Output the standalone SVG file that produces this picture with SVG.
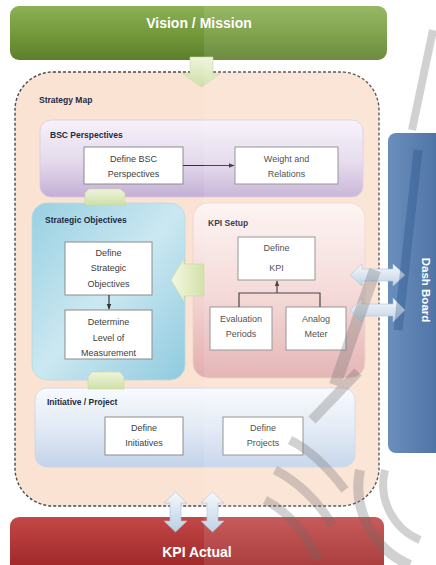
<svg xmlns="http://www.w3.org/2000/svg" width="436" height="565" viewBox="0 0 436 565">
  <defs>
    <linearGradient id="gGreen" x1="0" y1="0" x2="0" y2="1">
      <stop offset="0" stop-color="#8db055"/>
      <stop offset="0.5" stop-color="#739a3b"/>
      <stop offset="1" stop-color="#5c7f2b"/>
    </linearGradient>
    <linearGradient id="gRed" x1="0" y1="0" x2="0" y2="1">
      <stop offset="0" stop-color="#c24848"/>
      <stop offset="1" stop-color="#9a2222"/>
    </linearGradient>
    <linearGradient id="gDash" x1="0" y1="0" x2="1" y2="0">
      <stop offset="0" stop-color="#5a82b6"/>
      <stop offset="1" stop-color="#345e96"/>
    </linearGradient>
    <linearGradient id="gBsc" x1="0" y1="0" x2="0" y2="1">
      <stop offset="0" stop-color="#f6f2f9"/>
      <stop offset="0.55" stop-color="#e4d9ec"/>
      <stop offset="1" stop-color="#c3afd5"/>
    </linearGradient>
    <linearGradient id="gObj" x1="0" y1="0" x2="1" y2="1">
      <stop offset="0" stop-color="#98d0e2"/>
      <stop offset="0.5" stop-color="#cbe8f1"/>
      <stop offset="1" stop-color="#8fcadf"/>
    </linearGradient>
    <linearGradient id="gKpi" x1="0" y1="0" x2="0" y2="1">
      <stop offset="0" stop-color="#fdf4f2"/>
      <stop offset="0.5" stop-color="#f4d8d6"/>
      <stop offset="1" stop-color="#e2aeae"/>
    </linearGradient>
    <linearGradient id="gInit" x1="0" y1="0" x2="0" y2="1">
      <stop offset="0" stop-color="#f8fafd"/>
      <stop offset="0.5" stop-color="#e2eaf5"/>
      <stop offset="1" stop-color="#c3d3ea"/>
    </linearGradient>
    <linearGradient id="gPale" x1="0" y1="0" x2="0" y2="1">
      <stop offset="0" stop-color="#eef4dc"/>
      <stop offset="1" stop-color="#cfe0a8"/>
    </linearGradient>
    <linearGradient id="gPaleH" x1="0" y1="0" x2="1" y2="0">
      <stop offset="0" stop-color="#f4f7e2"/>
      <stop offset="1" stop-color="#d2e2a8"/>
    </linearGradient>
    <linearGradient id="gIce" x1="0" y1="0" x2="0" y2="1">
      <stop offset="0" stop-color="#f6f9fc"/>
      <stop offset="1" stop-color="#b9cee4"/>
    </linearGradient>
    <marker id="ah" viewBox="0 0 10 10" refX="9" refY="5" markerWidth="5" markerHeight="5" orient="auto">
      <path d="M0,1 L10,5 L0,9 z" fill="#333"/>
    </marker>
    <style>
      .title { font-family: "Liberation Sans", Arial, sans-serif; font-weight: bold; fill: #ffffff; text-anchor: middle; }
      .head { font-family: "Liberation Sans", Arial, sans-serif; font-weight: bold; font-size: 8.5px; fill: #1c2b45; }
      .item { fill: #ffffff; stroke: #8c8c8c; stroke-width: 1; }
      .lbl { font-family: "Liberation Sans", Arial, sans-serif; font-size: 9px; fill: #404040; text-anchor: middle; }
      .line { fill: none; stroke: #333; stroke-width: 1.2; }
      .pale { stroke: #c8d8a0; stroke-width: 0.6; }
      .ice { fill: url(#gIce); stroke: #a9bdd4; stroke-width: 0.6; }
    </style>
  </defs>

  <rect width="436" height="565" fill="#ffffff"/>

  <!-- Strategy map frame -->
  <g id="strategy-map">
    <rect x="15" y="72" width="364" height="434" rx="38" fill="#fbe3d3" stroke="#4a4a4a" stroke-width="1.4" stroke-dasharray="3 2"/>
    <text class="head" x="39" y="103">Strategy Map</text>
  </g>

  <!-- Vision / Mission banner -->
  <g id="vision">
    <rect x="10" y="6" width="377" height="54" rx="9" fill="url(#gGreen)"/>
    <text class="title" x="199" y="28" font-size="14">Vision / Mission</text>
  </g>

  <!-- Dash Board panel -->
  <g id="dashboard">
    <rect x="388" y="133" width="60" height="320" rx="8" fill="url(#gDash)"/>
    <text class="title" font-size="11.5" transform="translate(422 290) rotate(90)">Dash Board</text>
  </g>

  <!-- KPI Actual banner -->
  <g id="kpi-actual">
    <rect x="10" y="517" width="374" height="60" rx="9" fill="url(#gRed)"/>
    <text class="title" x="197" y="557" font-size="14">KPI Actual</text>
  </g>

  <!-- BSC Perspectives -->
  <g id="bsc">
    <rect x="40" y="120" width="323" height="77" rx="11" fill="url(#gBsc)" stroke="#d6cbe0" stroke-width="0.8"/>
    <text class="head" x="50" y="138">BSC Perspectives</text>
  </g>
  <g id="define-bsc">
    <rect class="item" x="84" y="147" width="99" height="37"/>
    <text class="lbl" x="133.5" y="162">Define BSC</text>
    <text class="lbl" x="133.5" y="177">Perspectives</text>
  </g>
  <g id="weight">
    <rect class="item" x="235" y="147" width="103" height="37"/>
    <text class="lbl" x="286.5" y="162">Weight and</text>
    <text class="lbl" x="286.5" y="177">Relations</text>
  </g>

  <!-- Strategic Objectives -->
  <g id="objectives">
    <rect x="32" y="203" width="153" height="177" rx="15" fill="url(#gObj)" stroke="#b5dbe7" stroke-width="0.8"/>
    <text class="head" x="45" y="223">Strategic Objectives</text>
  </g>
  <g id="define-objectives">
    <rect class="item" x="65" y="242" width="87" height="53"/>
    <text class="lbl" x="108.5" y="256">Define</text>
    <text class="lbl" x="108.5" y="271">Strategic</text>
    <text class="lbl" x="108.5" y="287">Objectives</text>
  </g>
  <g id="level">
    <rect class="item" x="65" y="310" width="87" height="49"/>
    <text class="lbl" x="108.5" y="325">Determine</text>
    <text class="lbl" x="108.5" y="341">Level of</text>
    <text class="lbl" x="108.5" y="356">Measurement</text>
  </g>

  <!-- KPI Setup -->
  <g id="kpi-setup">
    <rect x="193" y="203" width="172" height="175" rx="15" fill="url(#gKpi)" stroke="#ecd0cc" stroke-width="0.8"/>
    <text class="head" x="208" y="226">KPI Setup</text>
  </g>
  <g id="define-kpi">
    <rect class="item" x="238" y="237" width="77" height="43"/>
    <text class="lbl" x="276.5" y="251">Define</text>
    <text class="lbl" x="276.5" y="271">KPI</text>
  </g>
  <g id="evaluation">
    <rect class="item" x="210" y="307" width="62" height="43"/>
    <text class="lbl" x="241" y="322">Evaluation</text>
    <text class="lbl" x="241" y="337">Periods</text>
  </g>
  <g id="analog">
    <rect class="item" x="286" y="307" width="60" height="43"/>
    <text class="lbl" x="316" y="322">Analog</text>
    <text class="lbl" x="316" y="337">Meter</text>
  </g>

  <!-- Initiative / Project -->
  <g id="initiative">
    <rect x="35" y="388" width="320" height="79" rx="12" fill="url(#gInit)" stroke="#c9d6e8" stroke-width="0.8"/>
    <text class="head" x="47" y="405">Initiative / Project</text>
  </g>
  <g id="define-initiatives">
    <rect class="item" x="105" y="417" width="78" height="38"/>
    <text class="lbl" x="144" y="431">Define</text>
    <text class="lbl" x="144" y="446">Initiatives</text>
  </g>
  <g id="define-projects">
    <rect class="item" x="223" y="417" width="80" height="38"/>
    <text class="lbl" x="263" y="431">Define</text>
    <text class="lbl" x="263" y="446">Projects</text>
  </g>

  <!-- Connectors -->
  <g id="connectors">
    <!-- Vision down into the strategy map -->
    <path class="pale" d="M190,57 H213 V74 H220 L201.5,87 L183,74 H190 Z" fill="url(#gPale)"/>
    <!-- BSC to objectives link -->
    <path class="pale" d="M89,189 H120 L125,193 V205 H85 V193 Z" fill="url(#gPale)"/>
    <!-- objectives to initiatives link -->
    <path class="pale" d="M92,372 H120 L124,377 V389 H88 V377 Z" fill="url(#gPale)"/>
    <!-- KPI setup feeding objectives -->
    <path class="pale" d="M204,264 V296 H184 V302 L171,280 L184,258 V264 Z" fill="url(#gPaleH)"/>

    <!-- Define BSC to Weight -->
    <line class="line" x1="183" y1="165.5" x2="234" y2="165.5" marker-end="url(#ah)"/>
    <!-- Objectives to level -->
    <line class="line" x1="109" y1="295" x2="109" y2="309" marker-end="url(#ah)"/>
    <!-- Evaluation / Analog into Define KPI -->
    <path class="line" d="M239,307 V293 H320 V307"/>
    <line class="line" x1="277" y1="293" x2="277" y2="281" marker-end="url(#ah)"/>

    <!-- Two-way links with the dash board -->
    <path class="ice" d="M350,275 L362,264 V269 H393 V264 L405,275 L393,286 V281 H362 V286 Z"/>
    <path class="ice" d="M350,310 L362,298 V304 H393 V298 L405,310 L393,322 V316 H362 V322 Z"/>

    <!-- Two-way links with KPI Actual -->
    <path class="ice" d="M175.5,492 L187,503 H181 V521 H187 L175.5,532 L164,521 H170 V503 H164 Z"/>
    <path class="ice" d="M212.5,492 L224,503 H218 V521 H224 L212.5,532 L201,521 H207 V503 H201 Z"/>
  </g>

  <!-- Light overlay on the right half of the sheet -->
  <rect x="204" y="0" width="232" height="565" fill="#ffffff" opacity="0.1"/>

  <!-- Faint emblem over the sheet -->
  <g id="emblem" fill="none" stroke="#6b6b6b" opacity="0.3">
    <path d="M433,30 L412,130" stroke-width="8"/>
    <path d="M418,150 L398,330" stroke="#1f4a80" stroke-width="9"/>
    <path d="M375,270 L335,385" stroke-width="12"/>
    <path d="M358,372 L312,420" stroke-width="10"/>
    <path d="M290,440 C310,450 330,470 345,490" stroke-width="9"/>
    <path d="M275,470 C295,480 318,500 332,525" stroke-width="9"/>
    <path d="M265,500 C285,510 305,530 318,560" stroke-width="9"/>
    <path d="M360,470 A85,85 0 0 0 410,565" stroke-width="10"/>
    <path d="M385,470 A60,60 0 0 0 420,540" stroke-width="8"/>
  </g>
</svg>
